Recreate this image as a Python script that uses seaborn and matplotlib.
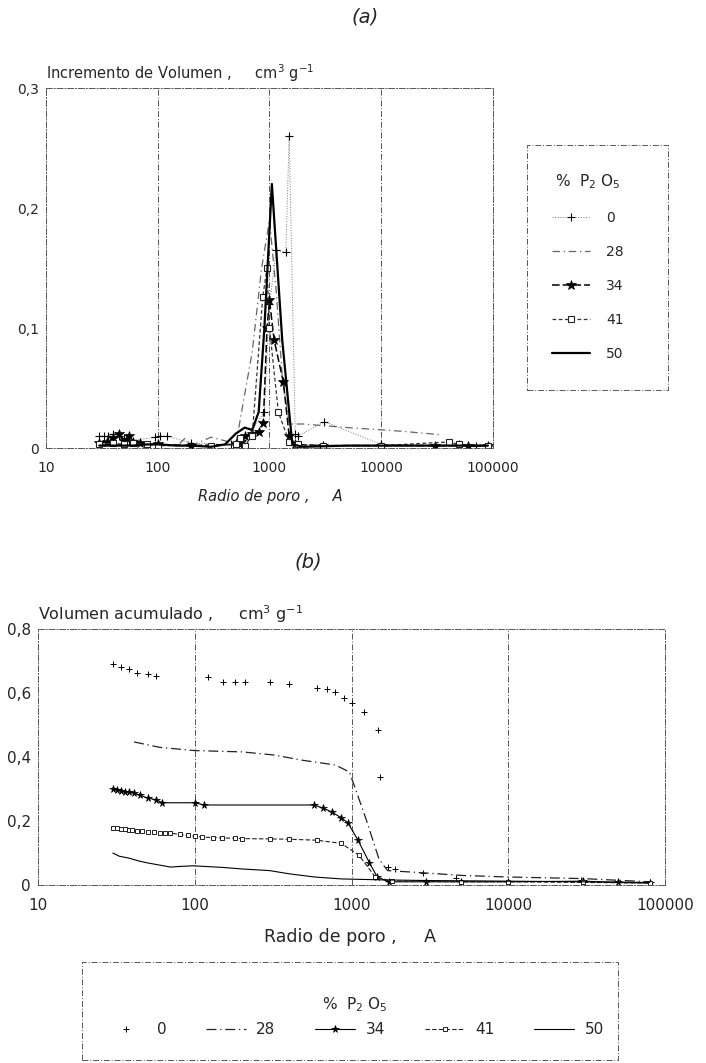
import numpy as np
import pandas as pd
import matplotlib
matplotlib.use("Agg")
import matplotlib.pyplot as plt
import seaborn as sns
from matplotlib.lines import Line2D
from matplotlib.patches import Rectangle

# ---------------- data ----------------
series_labels = ["0", "28", "34", "41", "50"]
x_ticks = [10, 100, 1000, 10000, 100000]
x_tick_labels = ["10", "100", "1000", "10000", "100000"]
ya_ticks = [0, 0.1, 0.2, 0.3]
ya_tick_labels = ["0", "0,1", "0,2", "0,3"]
yb_ticks = [0, 0.2, 0.4, 0.6, 0.8]
yb_tick_labels = ["0", "0,2", "0,4", "0,6", "0,8"]

# (a) Incremento de volumen
ra_0 = [30, 33, 36, 40, 45, 50, 55, 95, 105, 120, 200, 450, 560, 900, 1000, 1150, 1400, 1500, 1700, 1800, 3100, 10000, 30000, 50000, 70000, 90000]
va_0 = [0.01, 0.01, 0.01, 0.012, 0.01, 0.008, 0.006, 0.009, 0.01, 0.01, 0.004, 0.003, 0.002, 0.03, 0.12, 0.165, 0.163, 0.26, 0.012, 0.01, 0.022, 0.003, 0.002, 0.003, 0.002, 0.002]
ra_28 = [30, 40, 60, 100, 150, 175, 200, 300, 400, 500, 700, 850, 1000, 1150, 1300, 1500, 2000, 5000, 15000, 35000]
va_28 = [0.003, 0.003, 0.003, 0.003, 0.002, 0.008, 0.002, 0.009, 0.006, 0.003, 0.08, 0.15, 0.19, 0.13, 0.06, 0.02, 0.02, 0.017, 0.014, 0.011]
ra_34 = [30, 35, 40, 45, 50, 55, 60, 70, 100, 200, 500, 560, 600, 700, 800, 880, 950, 1000, 1100, 1330, 1500, 1700, 3000, 10000, 30000, 60000, 90000]
va_34 = [0.004, 0.005, 0.008, 0.012, 0.006, 0.01, 0.005, 0.004, 0.003, 0.002, 0.003, 0.005, 0.01, 0.012, 0.013, 0.021, 0.1, 0.123, 0.09, 0.055, 0.01, 0.003, 0.002, 0.002, 0.002, 0.002, 0.002]
ra_41 = [30, 40, 50, 60, 80, 100, 300, 500, 550, 600, 700, 870, 950, 1000, 1200, 1500, 1800, 3000, 10000, 40000, 50000, 90000]
va_41 = [0.003, 0.004, 0.003, 0.004, 0.003, 0.002, 0.002, 0.003, 0.008, 0.002, 0.01, 0.126, 0.15, 0.1, 0.03, 0.005, 0.003, 0.002, 0.002, 0.005, 0.003, 0.002]
ra_50 = [30, 40, 60, 80, 100, 150, 200, 300, 400, 500, 600, 700, 800, 900, 1050, 1300, 1600, 2000, 5000, 10000, 30000, 90000]
va_50 = [0.002, 0.002, 0.002, 0.003, 0.003, 0.002, 0.002, 0.001, 0.003, 0.012, 0.017, 0.015, 0.03, 0.1, 0.22, 0.09, 0.003, 0.001, 0.002, 0.002, 0.002, 0.002]

# (b) Volumen acumulado
rb_0 = [30, 34, 38, 43, 50, 57, 122, 152, 180, 208, 302, 398, 606, 700, 785, 900, 1010, 1210, 1470, 1515, 1700, 1900, 2870, 4650, 29000, 80000]
vb_0 = [0.69, 0.68, 0.675, 0.663, 0.66, 0.653, 0.65, 0.634, 0.634, 0.634, 0.634, 0.628, 0.615, 0.613, 0.603, 0.585, 0.57, 0.54, 0.485, 0.338, 0.055, 0.05, 0.037, 0.022, 0.015, 0.01]
rb_28 = [41, 60, 100, 200, 324, 484, 790, 970, 1060, 1250, 1500, 1700, 2500, 5000, 10000, 30000, 80000]
vb_28 = [0.447, 0.43, 0.42, 0.416, 0.406, 0.39, 0.375, 0.353, 0.30, 0.2, 0.08, 0.045, 0.04, 0.03, 0.025, 0.02, 0.01]
rb_34 = [30, 32, 34, 36, 38, 41, 45, 50, 57, 62, 100, 115, 580, 660, 750, 860, 950, 1100, 1300, 1460, 1730, 3000, 5000, 10000, 30000, 50000, 80000]
vb_34 = [0.30, 0.298, 0.295, 0.292, 0.29, 0.287, 0.28, 0.272, 0.266, 0.257, 0.257, 0.25, 0.25, 0.24, 0.228, 0.21, 0.194, 0.14, 0.07, 0.025, 0.01, 0.01, 0.01, 0.01, 0.012, 0.008, 0.006]
rb_41 = [30, 32, 34, 36, 38, 40, 43, 46, 50, 55, 60, 65, 70, 80, 90, 100, 112, 130, 150, 180, 200, 300, 400, 600, 860, 1110, 1420, 1800, 5000, 10000, 30000, 80000]
vb_41 = [0.178, 0.177, 0.176, 0.175, 0.173, 0.172, 0.17, 0.168, 0.167, 0.165, 0.164, 0.163, 0.162, 0.158, 0.155, 0.152, 0.15, 0.148, 0.147, 0.146, 0.145, 0.144, 0.143, 0.14, 0.13, 0.094, 0.025, 0.012, 0.01, 0.01, 0.008, 0.006]
rb_50 = [30, 33, 38, 44, 50, 60, 70, 80, 98, 150, 202, 300, 400, 580, 860, 1560, 3000, 10000, 30000, 80000]
vb_50 = [0.10, 0.09, 0.084, 0.075, 0.069, 0.062, 0.056, 0.058, 0.06, 0.055, 0.05, 0.045, 0.035, 0.025, 0.019, 0.016, 0.014, 0.012, 0.01, 0.008]

# ---------------- style ----------------
sns.set_style("white")
plt.rcParams['font.family'] = ['DejaVu Sans']

styles_a = {
    "0":  dict(color="#777777", linestyle=":", marker="+", markersize=6, linewidth=0.7, mec="black", mew=0.8),
    "28": dict(color="#666666", linestyle=(0, (6, 3, 1, 3)), marker=None, linewidth=0.9),
    "34": dict(color="black", linestyle=(0, (5, 2)), marker="*", markersize=7, linewidth=1.1, mec="black", mew=0.5),
    "41": dict(color="#333333", linestyle=(0, (3, 2)), marker="s", markersize=5, mfc="white", mec="#222222", mew=0.8, linewidth=0.9),
    "50": dict(color="black", linestyle="-", marker=None, linewidth=1.6),
}
styles_b = {
    "0":  dict(color="black", linestyle="none", marker="+", markersize=5, linewidth=0.6, mec="black", mew=0.7),
    "28": dict(color="#222222", linestyle=(0, (8, 3, 1, 3)), marker=None, linewidth=0.9),
    "34": dict(color="black", linestyle="-", marker="*", markersize=5.5, linewidth=0.8, mec="black", mew=0.5),
    "41": dict(color="#222222", linestyle=(0, (4, 2)), marker="s", markersize=3.5, mfc="white", mec="#222222", mew=0.7, linewidth=0.8),
    "50": dict(color="black", linestyle="-", marker=None, linewidth=0.8),
}

data_a = {"0": (ra_0, va_0), "28": (ra_28, va_28), "34": (ra_34, va_34), "41": (ra_41, va_41), "50": (ra_50, va_50)}
data_b = {"0": (rb_0, vb_0), "28": (rb_28, vb_28), "34": (rb_34, vb_34), "41": (rb_41, vb_41), "50": (rb_50, vb_50)}

W, H = 706, 1063
fig = plt.figure(figsize=(W / 100, H / 100), dpi=100)

def fx(px):
    return px / W

def fy(py):
    return 1 - py / H

ax_a = fig.add_axes([fx(46), fy(448), fx(493) - fx(46), fy(88) - fy(448)])
ax_b = fig.add_axes([fx(38), fy(885), fx(665) - fx(38), fy(629) - fy(885)])


def draw(ax, data, styles):
    for lab in series_labels:
        r, v = data[lab]
        df = pd.DataFrame({"r": r, "v": v})
        st = dict(styles[lab])
        ls = st.pop("linestyle")
        sns.lineplot(data=df, x="r", y="v", ax=ax, estimator=None, sort=False,
                     linestyle=ls if ls != "none" else "", **st)
    ax.set_xscale("log")
    ax.set_xlim(10, 100000)
    ax.set_xticks(x_ticks)
    ax.set_xticklabels(x_tick_labels)
    ax.minorticks_off()
    ax.set_xlabel("")
    ax.set_ylabel("")
    for xv in x_ticks[1:-1]:
        ax.axvline(xv, color="#555555", linestyle=(0, (6, 2, 1, 2)), linewidth=0.7, zorder=0)
    for s in ax.spines.values():
        s.set_linestyle((0, (6, 2, 1, 2)))
        s.set_color("#555555")
        s.set_linewidth(0.7)
    ax.tick_params(axis="x", length=0, pad=9)
    ax.tick_params(axis="y", length=3, direction="out", color="#555555", pad=2)


draw(ax_a, data_a, styles_a)
ax_a.set_ylim(0, 0.3)
ax_a.set_yticks(ya_ticks)
ax_a.set_yticklabels(ya_tick_labels)
ax_a.tick_params(labelsize=10)

draw(ax_b, data_b, styles_b)
ax_b.set_ylim(0, 0.8)
ax_b.set_yticks(yb_ticks)
ax_b.set_yticklabels(yb_tick_labels)
ax_b.tick_params(labelsize=11)

# titles and axis texts
fig.text(fx(365), fy(17), "(a)", fontsize=14, style="italic", ha="center", va="center")
fig.text(fx(308), fy(562), "(b)", fontsize=14, style="italic", ha="center", va="center")
fig.text(fx(46), fy(73), r"Incremento de Volumen ,     cm$^3$ g$^{-1}$", fontsize=10.5, ha="left", va="center")
fig.text(fx(38), fy(614), r"Volumen acumulado ,     cm$^3$ g$^{-1}$", fontsize=11.5, ha="left", va="center")
fig.text(fx(270), fy(497), "Radio de poro ,     A", fontsize=10.5, style="italic", ha="center", va="center")
fig.text(fx(350), fy(937), "Radio de poro ,     A", fontsize=12.5, ha="center", va="center")

# legend handles
def handles(styles):
    hs = []
    for lab in series_labels:
        st = dict(styles[lab])
        ls = st.pop("linestyle")
        hs.append(Line2D([], [], linestyle=ls if ls != "none" else "", **st))
    return hs

leg_title = r"%  P$_2$ O$_5$"

# legend (a)
fig.add_artist(Rectangle((fx(527), fy(390)), fx(668) - fx(527), fy(145) - fy(390), transform=fig.transFigure,
                         fill=False, edgecolor="#555555", linestyle=(0, (6, 2, 1, 2)), linewidth=0.7))
leg_a = fig.legend(handles(styles_a), series_labels, loc="upper center",
                   bbox_to_anchor=(fx(588), fy(165)), frameon=False, title=leg_title,
                   fontsize=10, title_fontsize=11, labelspacing=1.45, handlelength=2.7,
                   handletextpad=1.2, borderpad=0)

# legend (b)
fig.add_artist(Rectangle((fx(82), fy(1060)), fx(618) - fx(82), fy(962) - fy(1060), transform=fig.transFigure,
                         fill=False, edgecolor="#555555", linestyle=(0, (6, 2, 1, 2)), linewidth=0.7))
leg_b = fig.legend(handles(styles_b), series_labels, loc="upper center", ncol=5,
                   bbox_to_anchor=(fx(355), fy(988)), frameon=False, title=leg_title,
                   fontsize=11, title_fontsize=11, handlelength=2.6, handletextpad=0.7,
                   columnspacing=2.6, borderpad=0)

fig.savefig("out.png", dpi=100)
